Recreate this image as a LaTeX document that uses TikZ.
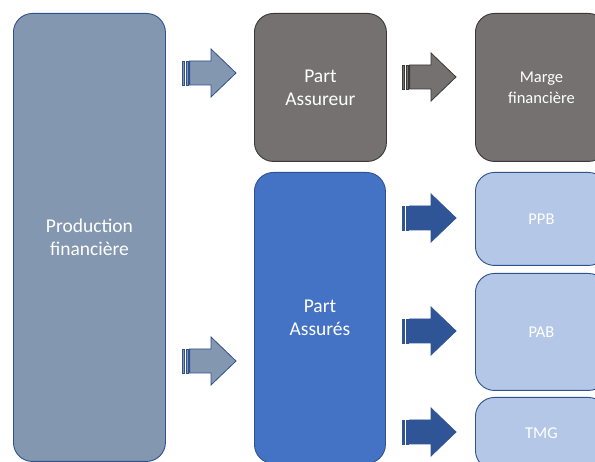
\documentclass[tikz,border=0pt]{standalone}
\usepackage{fontspec}
\setmainfont{Carlito}
\definecolor{prodfill}{HTML}{8497B0}
\definecolor{blueline}{HTML}{2F528F}
\definecolor{grayfill}{HTML}{767171}
\definecolor{grayline}{HTML}{3B3838}
\definecolor{assfill}{HTML}{4472C4}
\definecolor{darkblue}{HTML}{2F5597}
\definecolor{lightfill}{HTML}{B4C7E7}
\begin{document}
\begin{tikzpicture}[x=1pt,y=-1pt,
  box/.style={rounded corners=19pt, line width=0.9pt, inner sep=0pt, text=white, align=center, anchor=north west},
  bigtext/.style={font=\fontsize{19.5}{23}\selectfont},
  smalltext/.style={font=\fontsize{16.5}{21}\selectfont},
  pics/stripedarrow/.style n args={2}{code={
    \filldraw[fill=#1,draw=#2,line width=0.6pt] (0,-12) rectangle (2.6,12);
    \filldraw[fill=#1,draw=#2,line width=0.6pt] (3.8,-12) rectangle (6.4,12);
    \filldraw[fill=#1,draw=#2,line width=0.8pt,line join=miter] (7.6,-12) -- (29,-12) -- (29,-24) -- (54,0) -- (29,24) -- (29,12) -- (7.6,12) -- cycle;
  }}]
\clip (0,0) rectangle (595,462);
\fill[white] (0,0) rectangle (595,462);

% boxes
\node[box, bigtext, fill=prodfill, draw=blueline, minimum width=152pt, minimum height=448pt] (prod) at (13,13) {Production\\financière};
\node[box, bigtext, fill=grayfill, draw=grayline, minimum width=132pt, minimum height=148pt] (assureur) at (254,13) {Part\\Assureur};
\node[box, smalltext, fill=grayfill, draw=grayline, minimum width=132pt, minimum height=148pt] (marge) at (475,13) {Marge\\financière};
\node[box, bigtext, fill=assfill, draw=blueline, minimum width=131pt, minimum height=291pt] (assures) at (254,172) {Part\\Assurés};
\node[box, smalltext, fill=lightfill, draw=blueline, minimum width=132pt, minimum height=93pt] (ppb) at (475,172) {PPB};
\node[box, smalltext, fill=lightfill, draw=blueline, minimum width=132pt, minimum height=117pt] (pab) at (475,273) {PAB};
\node[box, smalltext, fill=lightfill, draw=blueline, minimum width=132pt, minimum height=72pt] (tmg) at (475,397) {TMG};

% arrows
\pic at (182,73) {stripedarrow={prodfill}{blueline}};
\pic at (182,361) {stripedarrow={prodfill}{blueline}};
\pic at (402,77) {stripedarrow={grayfill}{grayline}};
\pic at (402,218) {stripedarrow={darkblue}{darkblue}};
\pic at (402,331) {stripedarrow={darkblue}{darkblue}};
\pic at (402,432) {stripedarrow={darkblue}{darkblue}};
\end{tikzpicture}
\end{document}
